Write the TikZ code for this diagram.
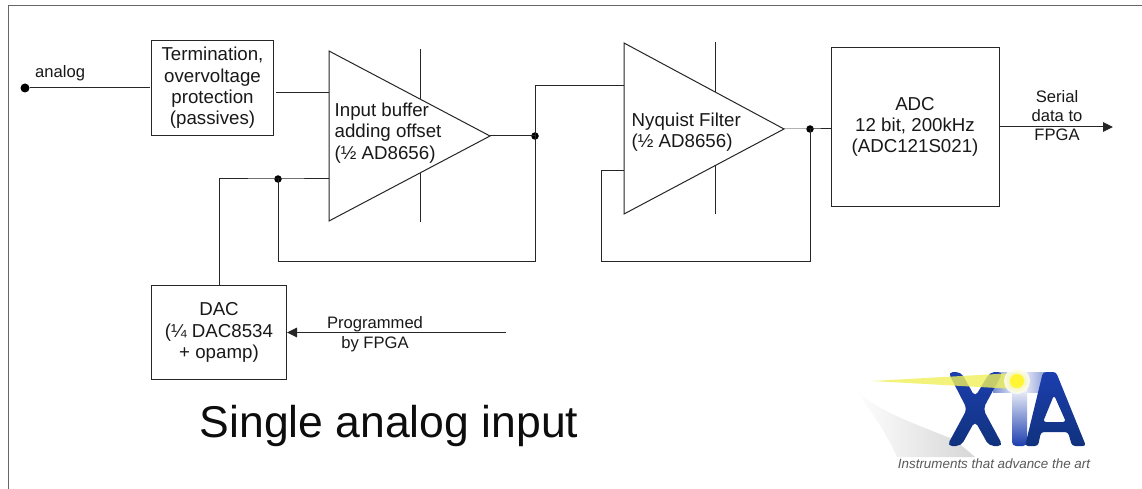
\documentclass[tikz,border=0pt]{standalone}
\usepackage{fontspec}
\setmainfont{Liberation Sans}
\usetikzlibrary{arrows.meta,shadings}
\definecolor{xiablue}{RGB}{28,62,175}
\definecolor{xiadark}{RGB}{16,50,125}
\definecolor{xiabeam}{RGB}{240,240,90}
\tikzset{
  x=1pt,y=-1pt,
  wire/.style={line width=1pt,black!85},
  frameline/.style={line width=1pt,black!60},
  shapeline/.style={line width=1pt,black!85},
  blockbox/.style={draw=black!85,line width=1pt,align=center,inner sep=0pt,text=black!90,font=\fontsize{18.7}{21.3}\selectfont},
  lbl/.style={align=center,inner sep=0pt,text=black!90,font=\fontsize{16.6}{19.5}\selectfont},
  amptxt/.style={align=left,anchor=west,inner sep=0pt,text=black!90,font=\fontsize{18.7}{21.3}\selectfont},
  dot/.style={circle,fill=black,inner sep=0pt,minimum size=7.5pt},
  head/.style={-{Triangle[length=10pt,width=9.5pt]}},
}
\begin{document}
\begin{tikzpicture}
\useasboundingbox (0,0) rectangle (1142,489);
\fill[white] (0,0) rectangle (1142,489);
% frame
\draw[frameline] (8.5,489) -- (8.5,5.5) -- (1142,5.5);
% named anchor points
\coordinate (a1tl) at (329,51);
\coordinate (a1bl) at (329,221);
\coordinate (a1tip) at (490,136);
\coordinate (a1in1) at (329,93);
\coordinate (a1in2) at (329,179);
\coordinate (a1vt) at (420,49);
\coordinate (a1vtb) at (420,99);
\coordinate (a1vbt) at (420,173);
\coordinate (a1vb) at (420,222);
\coordinate (a2tl) at (624,43);
\coordinate (a2bl) at (624,214);
\coordinate (a2tip) at (784,129);
\coordinate (a2in1) at (624,86);
\coordinate (a2in2) at (624,171);
\coordinate (a2vt) at (715,42);
\coordinate (a2vtb) at (715,92);
\coordinate (a2vbt) at (715,165);
\coordinate (a2vb) at (715,214);
\coordinate (outend) at (1113,127);
\coordinate (progend) at (506,332.5);
\coordinate (termout) at (276,93);
\coordinate (analogend) at (150,88);
% blocks
\node[blockbox,minimum width=122pt,minimum height=95pt] (term) at (212.5,88) {Termination,\\overvoltage\\protection\\(passives)};
\node[blockbox,minimum width=135pt,minimum height=94pt] (dac) at (219,332.5) {DAC\\(¼ DAC8534\\+ opamp)};
\node[blockbox,minimum width=168pt,minimum height=158pt] (adc) at (915,127) {ADC\\12 bit, 200kHz\\(ADC121S021)};
% amplifiers
\draw[shapeline,line join=miter] (a1tl) -- (a1tip) -- (a1bl) -- cycle;
\draw[shapeline,line join=miter] (a2tl) -- (a2tip) -- (a2bl) -- cycle;
\draw[wire] (a1vt) -- (a1vtb) (a1vbt) -- (a1vb);
\draw[wire] (a2vt) -- (a2vtb) (a2vbt) -- (a2vb);
\node[amptxt] (a1txt) at (334.5,133) {Input buffer\\adding offset\\(½ AD8656)};
\node[amptxt] (a2txt) at (631.5,132.5) {Nyquist Filter\\(½ AD8656)};
% dots
\node[dot,minimum size=9pt] (ain) at (25,88) {};
\node[dot] (j1) at (278,179) {};
\node[dot] (j2) at (535,136) {};
\node[dot] (j3) at (810,129) {};
% wires
\draw[wire] (ain) -- (analogend);
\draw[wire] (termout) -- (a1in1);
\draw[wire] (a1in2) -- (j1.center) -- (219,179) -- (dac.north);
\draw[wire] (a1tip) -- (j2.center);
\draw[wire] (j2.center) |- (a2in1);
\draw[wire] (j2.center) -- (535,261) -- (278,261) -- (j1.center);
\draw[wire] (a2tip) -- (j3.center) -- (adc.west |- j3);
\draw[wire] (j3.center) -- (810,261) -- (601,261) -- (601,171) -- (a2in2);
\draw[wire,head] (adc.east) -- (outend);
\draw[wire,head] (progend) -- (dac.east |- progend);
% labels
\node[lbl,anchor=west] (analog) at (35,73.5) {analog};
\node[lbl,font=\fontsize{16.6}{19}\selectfont] (serial) at (1057,116) {Serial\\data to\\FPGA};
\node[lbl] (prog) at (375,334) {Programmed\\by FPGA};
\node[inner sep=0pt,anchor=base west,text=black!95,font=\fontsize{44.5}{50}\selectfont] (title) at (199.5,437) {Single analog input};
% logo
\shade[left color=white,right color=black!16]
  (853,387) .. controls (875,410) and (905,420) .. (955,440) -- (975,457) -- (897,457) .. controls (885,430) and (870,410) .. cycle;
\shade[left color=xiablue!60,right color=xiablue!50,middle color=white] (993,372) rectangle (1045,392);
\shade[top color=white,bottom color=xiablue,rounded corners=4pt] (1012,385) rectangle (1027,446);
\shade[top color=xiablue,bottom color=xiadark,rounded corners=5pt]
  (948,372) -- (961,372) -- (975,397) -- (990,372) -- (1003,372) -- (983,409) -- (1003,446)
  -- (989,446) -- (975,421) -- (961,446) -- (947,446) -- (967,409) -- cycle;
\shade[top color=xiablue,bottom color=xiadark,even odd rule,rounded corners=3pt]
  (1043,372) -- (1056,372) -- (1086,446) -- (1072,446) -- (1068,432) -- (1041,432) -- (1038,446) -- (1025,446) -- cycle
  (1054,395) -- (1066,422) -- (1043,422) -- cycle;
\fill[xiabeam,opacity=.8] (872,381) -- (1015,373) -- (1015,389) -- cycle;
\shade[inner color=xiabeam,outer color=white,opacity=.85] (1017,381) circle (13pt);
\fill[yellow!80!white] (1017,381) circle (7pt);
\node[inner sep=0pt,text=black!65,font=\fontsize{13.4}{15}\selectfont\itshape] (tagline) at (994,463.5) {Instruments that advance the art};
\end{tikzpicture}
\end{document}
